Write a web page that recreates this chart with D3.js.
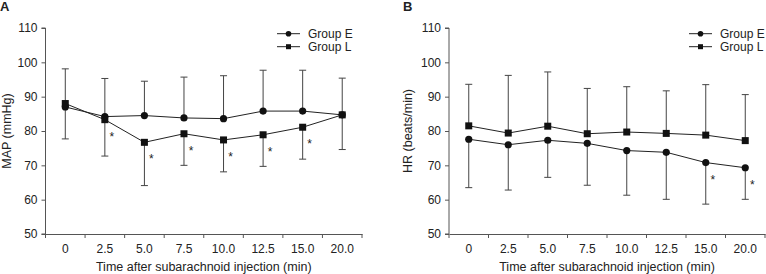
<!DOCTYPE html>
<html>
<head>
<meta charset="utf-8">
<script src="https://cdn.jsdelivr.net/npm/d3@7"></script>
<style>
  body { margin: 0; background: #fff; }
  text { font-family: "Liberation Sans", Arial, sans-serif; fill: #222; }
</style>
</head>
<body>
<svg id="chart" width="766" height="274"></svg>
<script>
// Shared categories
const times = ["0", "2.5", "5.0", "7.5", "10.0", "12.5", "15.0", "20.0"];
const yTicks = [50, 60, 70, 80, 90, 100, 110];

// Panel A: MAP (mmHg)
const mapE = [87.0, 84.2, 84.5, 83.8, 83.6, 85.8, 85.8, 84.7];
const mapL = [88.0, 83.3, 76.7, 79.2, 77.4, 78.9, 81.1, 84.7];
const mapUpperE = [98.1, 95.3, 94.5, 95.7, 96.1, 97.7, 97.7, 95.4];
const mapLowerL = [77.7, 72.7, 64.1, 70.0, 68.1, 69.7, 71.8, 74.6];
const mapStarL = [false, true, true, true, true, true, true, false];

// Panel B: HR (beats/min)
const hrE = [77.6, 76.0, 77.3, 76.4, 74.3, 73.8, 70.8, 69.3];
const hrL = [81.5, 79.4, 81.4, 79.2, 79.7, 79.3, 78.8, 77.2];
const hrUpperL = [93.6, 96.2, 97.2, 92.4, 92.9, 91.7, 93.5, 90.6];
const hrLowerE = [63.5, 62.8, 66.5, 64.2, 61.3, 60.1, 58.7, 60.1];
const hrStarE = [false, false, false, false, false, false, true, true];

const svg = d3.select("#chart");
const y0 = 28, y1 = 234;
const axisColor = "#555";

function drawPanel(opts) {
  const x = d3.scaleBand().domain(times).range([opts.left, opts.right]);
  const y = d3.scaleLinear().domain([50, 110]).range([y1, y0]);
  const g = svg.append("g");
  const cx = d => x(d) + x.bandwidth() / 2;

  // Axes
  const yAxis = g.append("g")
    .attr("transform", `translate(${opts.left},0)`)
    .call(d3.axisLeft(y).tickValues(yTicks).tickSize(4).tickPadding(4));
  const xAxis = g.append("g")
    .attr("transform", `translate(0,${y1})`)
    .call(d3.axisBottom(x).tickSize(0).tickPadding(10));
  // boundary ticks between categories
  const bounds = d3.range(times.length + 1).map(i => opts.left + i * x.bandwidth());
  xAxis.selectAll(".bt").data(bounds).join("line")
    .attr("class", "bt")
    .attr("x1", d => d).attr("x2", d => d)
    .attr("y1", 0).attr("y2", 4)
    .attr("stroke", axisColor);
  [yAxis, xAxis].forEach(a => {
    a.select(".domain").attr("stroke", axisColor);
    a.selectAll(".tick line").attr("stroke", axisColor);
    a.selectAll("text").attr("font-size", 12).attr("fill", "#333")
      .attr("font-family", "'Liberation Sans', Arial, sans-serif");
  });
  yAxis.select(".domain").attr("d", `M-4,${y0}H0V${y1}H-4`);

  // Error bars
  const cap = 3.5;
  function bars(means, ends) {
    const eb = g.append("g").attr("stroke", "#444").attr("stroke-width", 1);
    eb.selectAll("line.v").data(times).join("line").attr("class", "v")
      .attr("x1", cx).attr("x2", cx)
      .attr("y1", (d, i) => y(means[i])).attr("y2", (d, i) => y(ends[i]));
    eb.selectAll("line.c").data(times).join("line").attr("class", "c")
      .attr("x1", d => cx(d) - cap).attr("x2", d => cx(d) + cap)
      .attr("y1", (d, i) => y(ends[i])).attr("y2", (d, i) => y(ends[i]));
  }
  bars(opts.e, opts.eBar);
  bars(opts.l, opts.lBar);

  // Lines
  const line = vals => d3.line().x((d, i) => cx(times[i])).y(d => y(d))(vals);
  g.append("path").attr("d", line(opts.e)).attr("fill", "none").attr("stroke", "#222").attr("stroke-width", 1);
  g.append("path").attr("d", line(opts.l)).attr("fill", "none").attr("stroke", "#222").attr("stroke-width", 1);

  // Markers
  g.selectAll("circle.e").data(opts.e).join("circle").attr("class", "e")
    .attr("cx", (d, i) => cx(times[i])).attr("cy", d => y(d)).attr("r", 3.6).attr("fill", "#111");
  g.selectAll("rect.l").data(opts.l).join("rect").attr("class", "l")
    .attr("x", (d, i) => cx(times[i]) - 3.5).attr("y", d => y(d) - 3.5)
    .attr("width", 7).attr("height", 7).attr("fill", "#111");

  // Asterisks
  g.selectAll("text.star").data(opts.star.map((s, i) => ({ s, i })).filter(d => d.s)).join("text")
    .attr("class", "star")
    .attr("x", d => cx(times[d.i]) + 7)
    .attr("y", d => y(opts.starVals[d.i]) + 21)
    .attr("text-anchor", "middle")
    .attr("font-size", 12)
    .text("*");

  // Legend
  const lg = g.append("g").attr("transform", `translate(${opts.legendX},0)`);
  [["Group E", 33.7, "circle"], ["Group L", 46.7, "square"]].forEach(([label, ly, shape]) => {
    lg.append("line").attr("x1", 0).attr("x2", 23).attr("y1", ly).attr("y2", ly)
      .attr("stroke", "#222");
    if (shape === "circle") {
      lg.append("circle").attr("cx", 11.5).attr("cy", ly).attr("r", 2.8).attr("fill", "#111");
    } else {
      lg.append("rect").attr("x", 9).attr("y", ly - 2.5).attr("width", 5).attr("height", 5).attr("fill", "#111");
    }
    lg.append("text").attr("x", 31).attr("y", ly + 4.3).attr("font-size", 12).text(label);
  });

  // Titles
  g.append("text")
    .attr("x", (opts.left + opts.right) / 2).attr("y", 271)
    .attr("text-anchor", "middle").attr("font-size", 12.5)
    .text("Time after subarachnoid injection (min)");
  g.append("text")
    .attr("transform", `translate(${opts.yTitleX},${(y0 + y1) / 2}) rotate(-90)`)
    .attr("text-anchor", "middle").attr("font-size", 12.5)
    .text(opts.yTitle);
  g.append("text")
    .attr("x", opts.labelX).attr("y", 11)
    .attr("font-size", 13).attr("font-weight", "bold")
    .text(opts.label);
}

drawPanel({
  left: 45.5, right: 362, e: mapE, l: mapL, eBar: mapUpperE, lBar: mapLowerL,
  star: mapStarL, starVals: mapL, legendX: 277, yTitle: "MAP (mmHg)", yTitleX: 10.5,
  label: "A", labelX: 0
});
drawPanel({
  left: 449, right: 765, e: hrE, l: hrL, eBar: hrLowerE, lBar: hrUpperL,
  star: hrStarE, starVals: hrE, legendX: 689, yTitle: "HR (beats/min)", yTitleX: 412,
  label: "B", labelX: 403
});
</script>
</body>
</html>
